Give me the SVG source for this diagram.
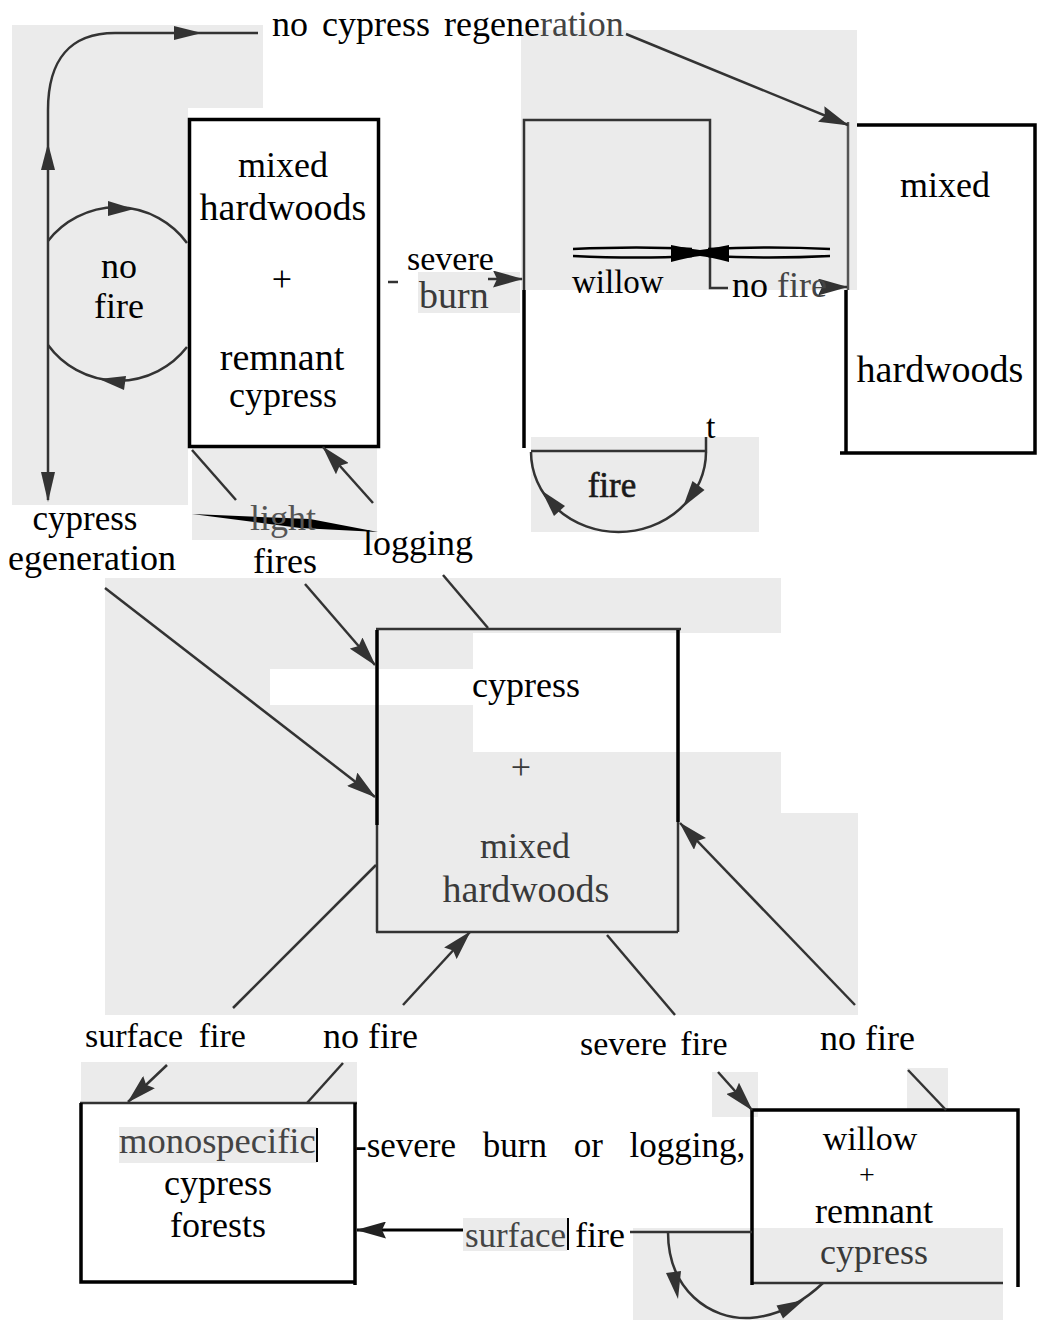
<svg xmlns="http://www.w3.org/2000/svg" width="1038" height="1320" viewBox="0 0 1038 1320">
<style>
.t{font-family:"Liberation Serif","Times New Roman",serif;font-size:36px;fill:#000}
.m{text-anchor:middle}
.g{fill:#3a3a3a}
.bg{fill:#ebebeb}
.wh{fill:#fff}
.ln{stroke:#333;stroke-width:2.5;fill:none}
.bk{stroke:#000;stroke-width:3.5;fill:none}
.ah{fill:#333}
.arr{marker-end:url(#ah)}
</style>
<defs>
<marker id="ah" markerUnits="userSpaceOnUse" markerWidth="30" markerHeight="17" viewBox="0 0 30 17" refX="29" refY="8.5" orient="auto"><path d="M0,0 L30,8.5 L0,17 L4,8.5 Z" fill="#333"/></marker>
<marker id="ahk" markerUnits="userSpaceOnUse" markerWidth="30" markerHeight="17" viewBox="0 0 30 17" refX="29" refY="8.5" orient="auto"><path d="M0,0 L30,8.5 L0,17 L4,8.5 Z" fill="#222"/></marker>
</defs>
<rect x="0" y="0" width="1038" height="1320" fill="#fff"/>
<g id="scan-background">
<path class="bg" d="M12,25 H263 V108 H188 V505 H12 Z"/>
<rect class="bg" x="192" y="446" width="185" height="94"/>
<rect class="bg" x="521" y="30" width="336" height="260"/>
<rect class="bg" x="418" y="272" width="102" height="41"/>
<rect class="bg" x="531" y="437" width="228" height="95"/>
<path class="bg" d="M105,578 H781 V813 H858 V1015 H105 Z"/>
<rect class="wh" x="473" y="633" width="308" height="119"/>
<rect class="wh" x="270" y="669" width="205" height="36"/>
<rect class="bg" x="81" y="1062" width="276" height="42"/>
<rect class="bg" x="119" y="1127" width="198" height="36"/>
<rect class="bg" x="463" y="1218" width="104" height="33"/>
<rect class="bg" x="712" y="1072" width="46" height="45"/>
<rect class="bg" x="907" y="1068" width="41" height="42"/>
<rect class="bg" x="633" y="1228" width="370" height="92"/>
</g>
<g id="n-mixed-remnant">
<rect class="bk" x="189.5" y="119.5" width="189" height="327"/>
<text class="t m" x="283" y="177">mixed</text>
<text class="t m" x="283" y="220" style="font-size:38px">hardwoods</text>
<text class="t m" x="282" y="291">+</text>
<text class="t m" x="282" y="370" style="font-size:38px">remnant</text>
<text class="t m" x="283" y="407">cypress</text>
</g>
<g id="n-willow">
<path class="ln" d="M524,290 V120 H710 V288 H728"/>
<path class="bk" d="M524,290 V448"/>
<text class="t" x="572" y="293" style="font-size:33px">willow</text>
</g>
<g id="n-mixed-hardwoods">
<path class="bk" d="M857,125 H1035 V453 H840"/>
<path class="bk" d="M846,290 V453"/>
<path stroke="#555" stroke-width="2.5" fill="none" d="M848,122 V290"/>
<text class="t m" x="945" y="197">mixed</text>
<text class="t m" x="940" y="382" style="font-size:38px">hardwoods</text>
</g>
<g id="n-cypress-mixed">
<path class="ln" d="M376,629 H681 M376,932 H678 M377,825 V932 M678,822 V932"/>
<path class="bk" d="M377,630 V825 M678,630 V822"/>
<text class="t" x="472" y="697">cypress</text>
<text class="t m g" x="521" y="779">+</text>
<text class="t m g" x="525" y="858">mixed</text>
<text class="t m g" x="526" y="902" style="font-size:38px">hardwoods</text>
</g>
<g id="n-monospecific">
<path class="ln" d="M80,1103 H357"/>
<path class="bk" d="M81,1103 V1282 H355 M355,1103 V1285"/>
<text class="t g" x="119" y="1153" style="font-size:36.5px;fill:#444">monospecific</text>
<path stroke="#000" stroke-width="2" d="M317,1128 V1162"/>
<text class="t m" x="218" y="1195">cypress</text>
<text class="t m" x="218" y="1237">forests</text>
</g>
<g id="n-willow-remnant">
<path class="ln" d="M752,1283 H1003"/>
<path class="bk" d="M752,1285 V1110 H1018 V1287"/>
<text class="t m" x="870" y="1150" style="font-size:34px">willow</text>
<text class="t m" x="867" y="1184" style="font-size:28px">+</text>
<text class="t m" x="874" y="1223">remnant</text>
<text class="t m g" x="874" y="1264">cypress</text>
</g>
<g id="connectors">
<path class="ln" d="M48,500 V110 C48,60 70,33 115,33 H258"/>
<polygon class="ah" points="48,143 41,170 55,170"/>
<polygon class="ah" points="202,33 174,26 174,40"/>
<polygon class="ah" points="48,502 41,472 55,472"/>
<path class="ln" d="M48,241 A87,87 0 0,1 187,243"/>
<polygon class="ah" points="134,209 108,201 108,216"/>
<path class="ln" d="M187,347 A87,87 0 0,1 48,345"/>
<polygon class="ah" points="99,379 126,376 124,390"/>
<path class="ln arr" d="M626,34 L848,125"/>
<path stroke="#333" stroke-width="2.5" d="M388,282 H398"/>
<path class="ln arr" d="M488,279 L522,279"/>
<path stroke="#000" stroke-width="2.5" fill="none" d="M573,249 Q640,246 692,249 M573,256 Q640,259 692,256 M708,249 Q770,246 830,249 M708,256 Q770,259 830,256"/>
<path fill="#000" d="M671,245 Q690,249 700,250 Q710,249 729,245 L729,262 Q710,257 700,256 Q690,257 671,262 Z"/>
<path class="ln arr" d="M822,287 L847,287"/>
<path class="ln" d="M531,451 H706 V437"/>
<path class="ln" d="M531,452 A87.5,80 0 0,0 706,452"/>
<polygon class="ah" points="541.5,490.5 565,506 554,516"/>
<polygon class="ah" points="683,507 704.5,490 692.5,481"/>
<path class="ln" d="M192,450 L236,500"/>
<path class="ln arr" d="M373,503 L323,447"/>
<path fill="#000" d="M192,514 L310,519 L378,532 L300,528 Z"/>
<path class="ln arr" d="M105,588 L375,797"/>
<path class="ln arr" d="M305,584 L375,665"/>
<path class="ln" d="M443,575 L488,628"/>
<path class="ln" d="M376,865 L233,1008"/>
<path class="ln arr" d="M403,1005 L470,932"/>
<path class="ln" d="M607,935 L675,1015"/>
<path class="ln arr" d="M855,1005 L680,823"/>
<path class="ln arr" d="M167,1065 L128,1102"/>
<path class="ln" d="M343,1063 L307,1103"/>
<path class="ln arr" d="M718,1072 L752,1110"/>
<path class="ln" d="M908,1070 L946,1110"/>
<path stroke="#000" stroke-width="3" fill="none" style="marker-end:url(#ahk)" d="M463,1230 L357,1230"/>
<path class="ln" d="M630,1232 L752,1232"/>
<path class="ln" d="M668,1232 C668,1290 710,1320 750,1318 C780,1316 805,1300 823,1283"/>
<polygon class="ah" points="678,1299 681,1271 666,1273"/>
<polygon class="ah" points="804,1300 783,1318.5 776.5,1305.5"/>
</g>
<g id="labels">
<text class="t" x="272" y="36" style="word-spacing:5px">no cypress regene<tspan fill="#444">ration</tspan></text>
<text class="t m" x="119" y="278">no</text>
<text class="t m" x="119" y="318">fire</text>
<text class="t" x="407" y="270" style="font-size:34px">severe</text>
<text class="t g" x="419" y="308" style="font-size:38px">burn</text>
<text class="t" x="732" y="297">no <tspan fill="#444">fire</tspan></text>
<text class="t" x="706" y="438" style="font-size:34px">t</text>
<text class="t m" x="612" y="497" style="font-size:35px;fill:#1a1a1a;stroke:#1a1a1a;stroke-width:0.6">fire</text>
<text class="t m" x="85" y="530" style="font-size:35px">cypress</text>
<text class="t" x="8" y="570">egeneration</text>
<text class="t" x="250" y="530" style="fill:#555">light</text>
<text class="t" x="253" y="573">fires</text>
<text class="t" x="363" y="555">logging</text>
<text class="t" x="85" y="1047" style="font-size:34px;word-spacing:7px">surface fire</text>
<text class="t" x="323" y="1048">no fire</text>
<text class="t" x="580" y="1055" style="font-size:34px;word-spacing:5px">severe fire</text>
<text class="t" x="820" y="1050">no fire</text>
<text class="t" x="355" y="1157" style="font-size:35px;word-spacing:18px">-severe burn or logging,</text>
<text class="t" x="465" y="1247" style="font-size:35px;fill:#444">surface</text>
<path stroke="#000" stroke-width="2" d="M568,1218 V1250"/>
<text class="t" x="575" y="1247">fire</text>
</g>
</svg>
